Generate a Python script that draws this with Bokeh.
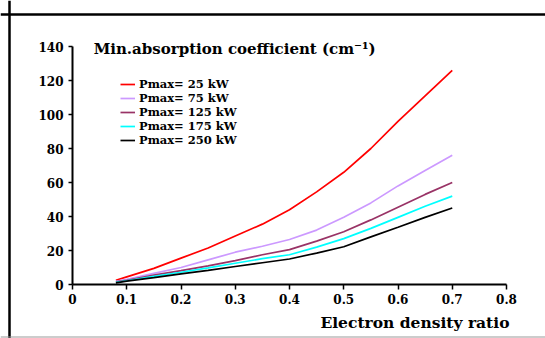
from bokeh.plotting import figure
from bokeh.models import Range1d, FixedTicker, Legend, LegendItem, Label, Span
from bokeh.embed import file_html
from bokeh.resources import INLINE

# ---- data ----
x_ratio = [0.08, 0.10, 0.15, 0.20, 0.25, 0.30, 0.35, 0.40, 0.45, 0.50, 0.55, 0.60, 0.65, 0.70]
p25 = [2.5, 4.5, 9.5, 15.5, 21.5, 28.5, 35.5, 44.0, 54.5, 66.0, 80.0, 96.0, 111.0, 126.0]
p75 = [1.8, 3.0, 6.5, 10.0, 14.5, 19.0, 22.5, 26.5, 32.0, 39.5, 48.0, 58.0, 67.0, 76.0]
p125 = [1.5, 2.5, 5.5, 8.2, 11.0, 14.0, 17.5, 20.5, 25.5, 31.0, 38.0, 45.5, 53.0, 60.0]
p175 = [1.2, 2.2, 4.8, 7.2, 9.8, 12.5, 15.2, 17.5, 22.0, 27.0, 33.0, 39.5, 46.0, 52.0]
p250 = [1.0, 2.0, 4.0, 6.2, 8.3, 10.6, 12.8, 15.0, 18.5, 22.2, 28.0, 33.7, 39.5, 45.0]

series_labels = ["Pmax= 25 kW", "Pmax= 75 kW", "Pmax= 125 kW", "Pmax= 175 kW", "Pmax= 250 kW"]
series_values = [p25, p75, p125, p175, p250]
series_colors = ["#ff0000", "#cc99ff", "#993366", "#00ffff", "#000000"]

x_ticks = [0, 0.1, 0.2, 0.3, 0.4, 0.5, 0.6, 0.7, 0.8]
x_tick_labels = ["0", "0.1", "0.2", "0.3", "0.4", "0.5", "0.6", "0.7", "0.8"]
y_ticks = [0, 20, 40, 60, 80, 100, 120, 140]
y_tick_labels = ["0", "20", "40", "60", "80", "100", "120", "140"]

title_text = "Min.absorption coefficient (cm\u207b\u00b9)"
x_label_text = "Electron density ratio"

FONT = "DejaVu Serif"

# canvas 545x338; data x 0 -> px 72, 0.8 -> px 506; y 0 -> px 284 (from top), 140 -> px 46
W, H = 545, 338
XPX = 542.5   # px per x unit
YPX = 1.7     # px per y unit
x_start = -72 / XPX
x_end = 0.8 + (W - 506) / XPX
y_start = -(H - 284) / YPX
y_end = 140 + 46 / YPX

p = figure(width=W, height=H, output_backend="svg", toolbar_location=None,
           x_range=Range1d(x_start, x_end), y_range=Range1d(y_start, y_end),
           min_border=0, min_border_left=0, min_border_right=0,
           min_border_top=0, min_border_bottom=0)
p.outline_line_color = None
p.xgrid.grid_line_color = None
p.ygrid.grid_line_color = None
p.background_fill_color = "white"
p.border_fill_color = "white"

renderers = []
for vals, col in zip(series_values, series_colors):
    r = p.line(x_ratio, vals, line_color=col, line_width=1.7)
    renderers.append(r)

for ax in (p.xaxis[0], p.yaxis[0]):
    ax.fixed_location = 0
    ax.axis_line_width = 2
    ax.axis_line_color = "black"
    ax.major_tick_line_width = 1.5
    ax.major_tick_line_color = "black"
    ax.major_tick_in = 0
    ax.minor_tick_line_color = None
    ax.major_label_text_font = FONT
    ax.major_label_text_font_style = "bold"
    ax.major_label_text_font_size = "12px"
    ax.major_label_text_color = "black"

p.xaxis[0].bounds = (0, 0.8)
p.xaxis[0].ticker = FixedTicker(ticks=x_ticks)
p.xaxis[0].major_label_overrides = {t: l for t, l in zip(x_ticks, x_tick_labels)}
p.xaxis[0].major_tick_out = 5
p.xaxis[0].major_label_standoff = 4
p.yaxis[0].bounds = (0, 140)
p.yaxis[0].ticker = FixedTicker(ticks=y_ticks)
p.yaxis[0].major_label_overrides = {t: l for t, l in zip(y_ticks, y_tick_labels)}
p.yaxis[0].major_tick_out = 4
p.yaxis[0].major_label_standoff = 5

# decorative box edges of the original figure frame
p.add_layout(Span(location=y_end - 14 / YPX, dimension="width", line_color="black", line_width=2.5))
p.add_layout(Span(location=x_start + 9 / XPX, dimension="height", line_color="black", line_width=2.5))
p.add_layout(Span(location=y_start + 1.5 / YPX, dimension="width", line_color="#999999", line_width=1))

legend = Legend(items=[LegendItem(label=l, renderers=[r]) for l, r in zip(series_labels, renderers)],
                location=(120, 191), padding=0, margin=0, spacing=0,
                glyph_width=15, glyph_height=12, label_height=12, label_standoff=4,
                label_text_font=FONT, label_text_font_style="bold", label_text_font_size="11.5px",
                label_text_line_height=1.0,
                label_text_color="black",
                background_fill_alpha=0, border_line_color=None)
p.add_layout(legend)

p.add_layout(Label(x=0.039, y=138.8, text=title_text, text_font=FONT, text_font_style="bold",
                   text_font_size="15px", text_baseline="middle", text_align="left", text_color="black"))
p.add_layout(Label(x=0.8055, y=-22.4, text=x_label_text, text_font=FONT, text_font_style="bold",
                   text_font_size="15.5px", text_baseline="middle", text_align="right", text_color="black"))

open("out.html", "w").write(file_html(p, INLINE))
